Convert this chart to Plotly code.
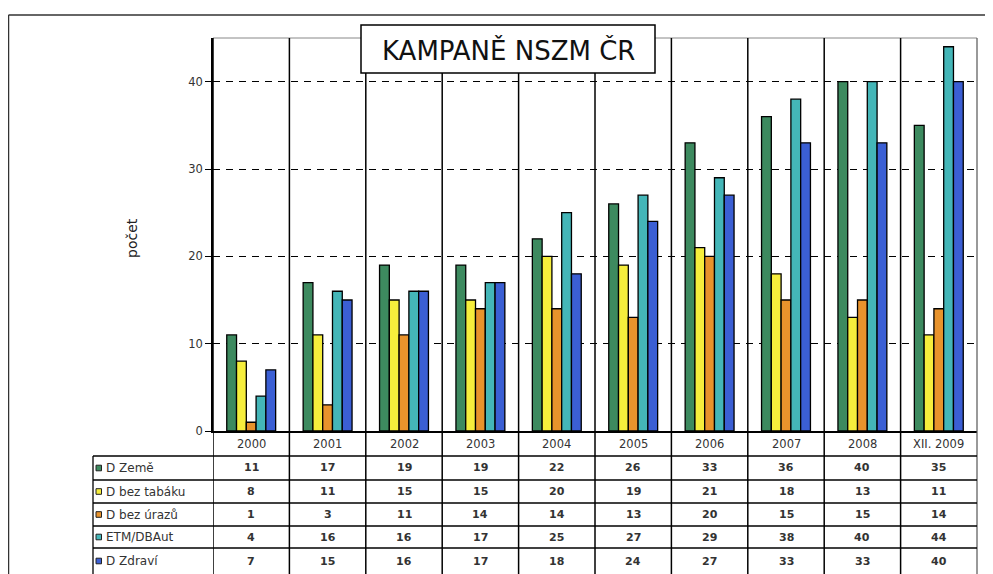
import plotly.graph_objects as go

# ---------------- data ----------------
categories = ["2000", "2001", "2002", "2003", "2004", "2005", "2006", "2007", "2008", "XII. 2009"]
series_names = ["D Země", "D bez tabáku", "D bez úrazů", "ETM/DBAut", "D Zdraví"]
d_zeme = [11, 17, 19, 19, 22, 26, 33, 36, 40, 35]
d_bez_tabaku = [8, 11, 15, 15, 20, 19, 21, 18, 13, 11]
d_bez_urazu = [1, 3, 11, 14, 14, 13, 20, 15, 15, 14]
etm_dbaut = [4, 16, 16, 17, 25, 27, 29, 38, 40, 44]
d_zdravi = [7, 15, 16, 17, 18, 24, 27, 33, 33, 40]
y_ticks = [0, 10, 20, 30, 40]
title_text = "KAMPANĚ NSZM ČR"
y_title = "počet"

series_values = [d_zeme, d_bez_tabaku, d_bez_urazu, etm_dbaut, d_zdravi]
colors = ["#3d8a5f", "#f6ee3c", "#e8932c", "#44b6b8", "#3b5fd4"]

# ---------------- layout geometry (reference pixels, page has 8px body margin) ----------------
OFF = 8
W, H = 993 - OFF, 574 - OFF
L, R, T, B = 213 - OFF, 977 - OFF, 38 - OFF, 431 - OFF


def px(xp):
    return (xp - OFF - L) / (R - L)


def py(yp):
    return (B - (yp - OFF)) / (B - T)


fig = go.Figure()
for name, vals, col in zip(series_names, series_values, colors):
    fig.add_trace(go.Bar(
        x=categories, y=vals, name=name,
        marker=dict(color=col, line=dict(color="black", width=1.3)),
        showlegend=False, hoverinfo="x+y+name",
    ))

shapes = []
# outer frame (top and left)
shapes.append(dict(type="line", xref="paper", yref="paper", x0=px(8.5), x1=px(993), y0=py(15), y1=py(15),
                   line=dict(color="#333", width=1.5)))
shapes.append(dict(type="line", xref="paper", yref="paper", x0=px(8.5), x1=px(8.5), y0=py(15), y1=py(574),
                   line=dict(color="#333", width=1.5)))
# plot top border
shapes.append(dict(type="line", xref="paper", yref="paper", x0=0, x1=1, y0=1, y1=1,
                   line=dict(color="#888", width=1)))
# right border (through the table)
shapes.append(dict(type="line", xref="paper", yref="paper", x0=1, x1=1, y0=1, y1=py(574),
                   line=dict(color="#555", width=1.2)))
# category separators through plot and table
for i in range(len(categories)):
    shapes.append(dict(type="line", xref="x", yref="paper", x0=i - 0.5, x1=i - 0.5, y0=1, y1=py(574),
                       line=dict(color="black", width=1.5), layer="above"))
# table rows
row_lines = [456, 480, 503, 526, 548]
for yl in row_lines:
    shapes.append(dict(type="line", xref="paper", yref="paper", x0=px(93), x1=1, y0=py(yl), y1=py(yl),
                       line=dict(color="black", width=1.3)))
# label column left border
shapes.append(dict(type="line", xref="paper", yref="paper", x0=px(93), x1=px(93), y0=py(456), y1=py(574),
                   line=dict(color="black", width=1.3)))
# title box
shapes.append(dict(type="rect", xref="paper", yref="paper", x0=px(361), x1=px(655), y0=py(25), y1=py(73),
                   fillcolor="white", line=dict(color="black", width=1.5), layer="above"))

annotations = []
annotations.append(dict(text=title_text, xref="paper", yref="paper", x=px(508), y=py(50),
                        showarrow=False, font=dict(family="DejaVu Sans", size=26, color="#111"),
                        xanchor="center", yanchor="middle"))
annotations.append(dict(text=y_title, xref="paper", yref="paper", x=px(132), y=py(238), textangle=-90,
                        showarrow=False, font=dict(family="DejaVu Sans", size=14, color="#222"),
                        xanchor="center", yanchor="middle"))
# header row (category labels)
for i, c in enumerate(categories):
    annotations.append(dict(text=c, xref="x", yref="paper", x=i, y=py(443.5), showarrow=False,
                            font=dict(family="DejaVu Sans", size=11.5, color="#333"),
                            xanchor="center", yanchor="middle"))
# data rows
row_centers = [468, 491.5, 514.5, 537, 561]
for name, vals, col, yc in zip(series_names, series_values, colors, row_centers):
    shapes.append(dict(type="rect", xref="paper", yref="paper", x0=px(96), x1=px(101.5),
                       y0=py(yc - 2.8), y1=py(yc + 2.8), fillcolor=col, line=dict(color="#222", width=1)))
    annotations.append(dict(text=name, xref="paper", yref="paper", x=px(104), y=py(yc), showarrow=False,
                            font=dict(family="DejaVu Sans", size=12, color="#333"),
                            xanchor="left", yanchor="middle"))
    for i, v in enumerate(vals):
        annotations.append(dict(text="<b>%d</b>" % v, xref="x", yref="paper", x=i, y=py(yc), showarrow=False,
                                font=dict(family="DejaVu Sans", size=11, color="#333"),
                                xanchor="center", yanchor="middle"))

fig.update_layout(
    width=W, height=H,
    margin=dict(l=L, r=W - R, t=T, b=H - B, pad=0),
    paper_bgcolor="white", plot_bgcolor="white",
    barmode="group", bargap=0.36, bargroupgap=0,
    shapes=shapes, annotations=annotations,
    xaxis=dict(type="category", range=[-0.5, len(categories) - 0.5], showticklabels=False,
               showline=True, linecolor="black", linewidth=1.5, showgrid=False, ticks="",
               zeroline=False, fixedrange=True),
    yaxis=dict(range=[0, 45], tickvals=y_ticks, ticks="outside", ticklen=6, tickcolor="black",
               tickwidth=1, showline=True, linecolor="black", linewidth=1.5,
               showgrid=True, gridcolor="black", gridwidth=1.3, griddash="7px,6px",
               zeroline=False, tickfont=dict(family="DejaVu Sans", size=11.5, color="#333"),
               fixedrange=True),
    font=dict(family="DejaVu Sans"),
)

fig.write_html("out.html")
